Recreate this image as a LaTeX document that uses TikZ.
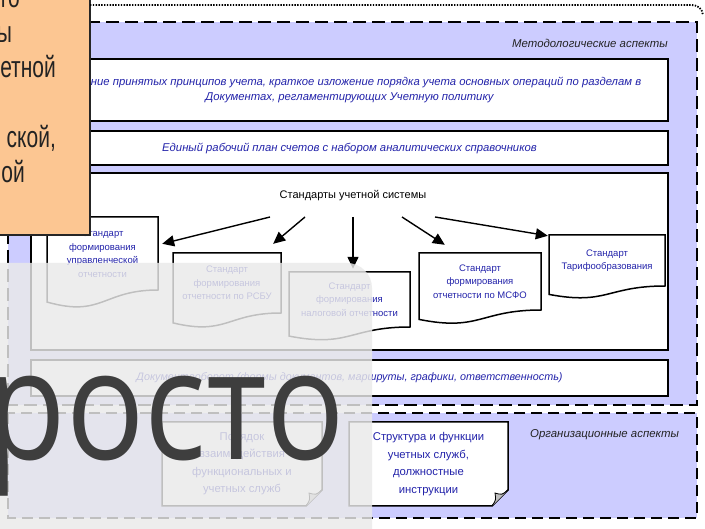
\documentclass[tikz,border=0pt]{standalone}
\usepackage{fontspec}
\setmainfont{Liberation Sans}
\newfontfamily\bigfont{Open Sans}
\usetikzlibrary{arrows.meta,calc}
\definecolor{lav}{RGB}{204,204,255}
\definecolor{peach}{RGB}{252,198,146}
\definecolor{txtblue}{RGB}{35,35,170}
\definecolor{ovl}{RGB}{234,234,234}
\definecolor{bigtxt}{RGB}{62,62,62}
\definecolor{darktxt}{RGB}{35,35,35}
\newcommand\docshape[6]{%
  \draw[docline] (#2,#3) -- ({#2+#4},#3) -- ({#2+#4},{#3+#5})
    .. controls ({#2+#4/2},{#3+#5}) and ({#2+#4/2},{#3+1.38*#5}) .. (#2,{#3+1.165*#5}) -- cycle;
  \node[doctext, minimum width=#4pt, minimum height=#5pt] (#1) at ({#2+#4/2},{#3+#5/2}) {#6};}
\newcommand\notebox[6]{%
  \draw[docline] (#2,#3) -- (#4,#3) -- (#4,{#5-16}) -- ({#4-16},#5) -- (#2,#5) -- cycle;
  \draw[line width=0.8pt,fill=black!25] ({#4-16},#5) .. controls ({#4-12},{#5-6}) .. ({#4-13},{#5-13})
    .. controls ({#4-6},{#5-11}) .. (#4,{#5-16});
  \node[notetext] (#1) at ({(#2+#4)/2},{(#3+#5)/2}) {#6};}
\begin{document}
\begin{tikzpicture}[x=1pt,y=-1pt,
  region/.style={draw=black,line width=1.8pt,dash pattern=on 13pt off 6pt,fill=lav},
  box/.style={draw=black,line width=1.3pt,fill=white,inner sep=0pt},
  boxtext/.style={font=\fontsize{11.3}{15.5}\selectfont\itshape,text=txtblue,align=center},
  docline/.style={draw=black,line width=1.5pt,fill=white},
  doctext/.style={font=\fontsize{9.5}{13.5}\selectfont,text=txtblue,align=center,inner sep=0pt},
  notetext/.style={font=\fontsize{11.3}{17.5}\selectfont,text=txtblue,align=center,inner sep=0pt},
  aspect/.style={font=\fontsize{11.4}{14}\selectfont\itshape,text=darktxt,inner sep=0pt},
  arr/.style={line width=1.4pt,-{Triangle[length=12pt,width=11pt]}},
  orangetxt/.style={font=\fontsize{30}{34}\selectfont,text=darktxt,inner sep=0pt,anchor=base east,xscale=0.7},
]
\clip (0,0) rectangle (705,529);
\fill[white] (0,0) rectangle (705,529);
% regions
\draw[region] (8,22) rectangle (697,405);
\draw[region,dash pattern=on 11pt off 6pt] (8,413) rectangle (697,518);
\node[aspect,anchor=east] (metlbl) at (668,43) {Методологические аспекты};
\node[aspect,anchor=west] (orglbl) at (530,435) {Организационные аспекты};
% boxes
\node[box,boxtext,minimum width=637pt,minimum height=62pt] (b1) at (349.5,90)
  {Описание принятых принципов учета, краткое изложение порядка учета основных операций по разделам в\\Документах, регламентирующих Учетную политику};
\node[box,boxtext,minimum width=637pt,minimum height=34pt] (b2) at (349.5,148)
  {Единый рабочий план счетов с набором аналитических справочников};
\node[box,minimum width=637pt,minimum height=177pt] (b3) at (349.5,261.5) {};
\node[box,boxtext,minimum width=637pt,minimum height=36pt,font=\fontsize{10.8}{14}\selectfont\itshape] (b4) at (349.5,378)
  {Документооборот (формы документов, маршруты, графики, ответственность)};
\node[font=\fontsize{11}{13}\selectfont,inner sep=0pt] (t3) at (353,196) {Стандарты учетной системы};
% documents
\docshape{d1}{47}{217}{111}{73}{Стандарт\\формирования\\управленческой\\отчетности}
\docshape{d2}{173}{253}{108}{60}{Стандарт\\формирования\\отчетности по РСБУ}
\docshape{d3}{289}{272}{121}{55}{Стандарт\\формирования\\налоговой отчетности}
\docshape{d4}{419}{253}{122}{57}{Стандарт\\формирования\\отчетности по МСФО}
\docshape{d5}{549}{235}{116}{51}{Стандарт\\Тарифообразования}
% arrows
\coordinate (s1) at (270,217);
\coordinate (s2) at (305,217);
\coordinate (s3) at (353,217);
\coordinate (s4) at (402,217);
\coordinate (s5) at (435,217);
\draw[arr] (s1) -- ($(d1.north east)+(4,27)$);
\draw[arr] (s2) -- ($(d2.north east)+(-8,-9)$);
\draw[arr] (s3) -- ($(d3.north)+(3.5,-3)$);
\draw[arr] (s4) -- ($(d4.north west)+(26,-8)$);
\draw[arr] (s5) -- ($(d5.north west)+(-1,1)$);
% notes
\notebox{n1}{162}{422}{322}{506}{Порядок\\взаимодействия\\функциональных и\\учетных служб}
\notebox{n2}{349}{422}{508}{506}{Структура и функции\\учетных служб,\\должностные\\инструкции}
% orange box
\draw[line width=1.5pt,draw=black!85,fill=peach] (-20,-20) rectangle (90,235);
\node[orangetxt] (o1) at (20,8) {го};
\node[orangetxt] (o2) at (12,43) {ы};
\node[orangetxt] (o3) at (56,78) {етной};
\node[orangetxt] (o4) at (56,148) {ской,};
\node[orangetxt] (o5) at (25,183) {ой};
% dotted line
\draw[line width=1.8pt,dash pattern=on 1.4pt off 1.4pt] (90,5) -- (690,5) .. controls (698,5) and (702,8) .. (703,15);
% overlay
\fill[ovl,opacity=0.82] (0,529) -- (0,263) [rounded corners=25pt] -- (372,263) [sharp corners] -- (372,529) -- cycle;
\node[font=\bigfont\fontsize{153}{160}\selectfont,text=bigtxt,inner sep=0pt,anchor=base east,xscale=0.85] (big) at (345,460) {росто};
\end{tikzpicture}
\end{document}
